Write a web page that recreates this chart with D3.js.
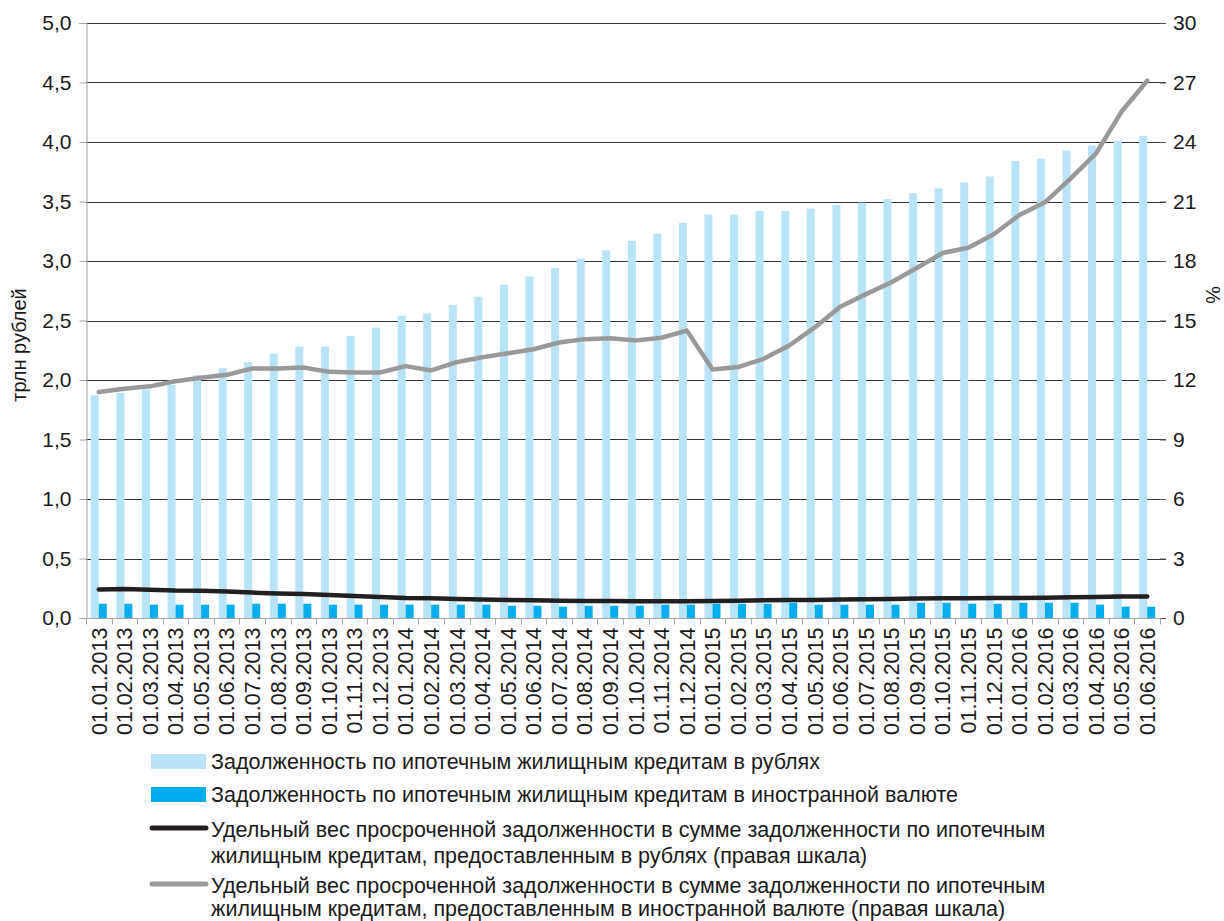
<!DOCTYPE html>
<html><head><meta charset="utf-8">
<script src="https://cdn.jsdelivr.net/npm/d3@7/dist/d3.min.js"></script>
<style>body{margin:0;background:#fff}svg{display:block}text{font-family:"Liberation Sans",Arial,sans-serif;fill:#1a1a1a}</style>
</head><body><svg id="c" width="1224" height="921"></svg>
<script>
const categories = ["01.01.2013","01.02.2013","01.03.2013","01.04.2013","01.05.2013","01.06.2013","01.07.2013","01.08.2013","01.09.2013","01.10.2013","01.11.2013","01.12.2013",
"01.01.2014","01.02.2014","01.03.2014","01.04.2014","01.05.2014","01.06.2014","01.07.2014","01.08.2014","01.09.2014","01.10.2014","01.11.2014","01.12.2014",
"01.01.2015","01.02.2015","01.03.2015","01.04.2015","01.05.2015","01.06.2015","01.07.2015","01.08.2015","01.09.2015","01.10.2015","01.11.2015","01.12.2015",
"01.01.2016","01.02.2016","01.03.2016","01.04.2016","01.05.2016","01.06.2016"];
const debtRub = [1.87,1.89,1.92,1.96,2.04,2.10,2.15,2.22,2.28,2.28,2.37,2.44,2.54,2.56,2.63,2.70,2.80,2.87,2.94,3.02,3.09,3.17,3.23,3.32,3.39,3.39,3.42,3.42,3.44,3.47,3.49,3.52,3.57,3.61,3.66,3.71,3.84,3.86,3.93,3.97,4.01,4.05];
const debtFx = [0.12,0.12,0.112,0.112,0.112,0.112,0.12,0.12,0.12,0.112,0.112,0.112,0.112,0.112,0.112,0.112,0.103,0.103,0.095,0.103,0.103,0.103,0.112,0.112,0.12,0.12,0.12,0.128,0.112,0.112,0.112,0.112,0.128,0.128,0.12,0.12,0.128,0.128,0.128,0.112,0.095,0.095];
const overdueRubPct = [1.44,1.46,1.43,1.39,1.38,1.34,1.28,1.24,1.21,1.16,1.11,1.06,1.01,0.99,0.96,0.93,0.91,0.89,0.87,0.86,0.86,0.84,0.84,0.84,0.86,0.87,0.89,0.91,0.91,0.93,0.95,0.96,0.98,0.99,1.00,1.01,1.01,1.02,1.04,1.06,1.08,1.09];
const overdueFxPct = [11.39,11.56,11.68,11.94,12.11,12.26,12.58,12.58,12.63,12.41,12.38,12.38,12.70,12.48,12.90,13.15,13.35,13.55,13.89,14.06,14.11,13.99,14.13,14.49,12.53,12.65,13.07,13.74,14.65,15.69,16.33,16.93,17.66,18.40,18.67,19.35,20.32,20.96,22.15,23.43,25.54,27.09];
const leftTicks = [0,0.5,1,1.5,2,2.5,3,3.5,4,4.5,5];
const rightTicks = [0,3,6,9,12,15,18,21,24,27,30];
const leftTitle = "трлн рублей";
const rightTitle = "%";
const legendItems = [
 {type:"bar", color:"#b9e4f8", lines:["Задолженность по ипотечным жилищным кредитам в рублях"]},
 {type:"bar", color:"#00aeef", lines:["Задолженность по ипотечным жилищным кредитам в иностранной валюте"]},
 {type:"line", color:"#231f20", lines:["Удельный вес просроченной задолженности в сумме задолженности по ипотечным","жилищным кредитам, предоставленным в рублях (правая шкала)"]},
 {type:"line", color:"#999999", lines:["Удельный вес просроченной задолженности в сумме задолженности по ипотечным","жилищным кредитам, предоставленным в иностранной валюте (правая шкала)"]}
];

const svg = d3.select("#c");
const X0=86, X1=1160, Y0=618, Y1=23;
const x = d3.scaleBand().domain(categories).range([X0,X1]).padding(0);
const yL = d3.scaleLinear().domain([0,5]).range([Y0,Y1]);
const yR = d3.scaleLinear().domain([0,30]).range([Y0,Y1]);
const bw = x.bandwidth();
const cx = d => x(d)+bw/2;
const fmt = v => d3.format(".1f")(v).replace(".",",");

// grid
svg.append("g").selectAll("line").data(leftTicks.filter(d=>d>0)).join("line")
 .attr("x1",X0).attr("x2",X1+6).attr("y1",d=>Math.round(yL(d))+0.5).attr("y2",d=>Math.round(yL(d))+0.5)
 .attr("stroke","#333").attr("stroke-width",1);

// left axis
const gL = svg.append("g").attr("transform",`translate(${X0+0.5},0)`)
 .call(d3.axisLeft(yL).tickValues(leftTicks).tickFormat(fmt).tickSize(7).tickPadding(8));
gL.select(".domain").attr("stroke","#a6a6a6");
gL.selectAll(".tick line").attr("stroke","#a6a6a6");
gL.selectAll("text").style("font-size","21px").attr("fill","#1a1a1a").style("font-family","Liberation Sans, Arial, sans-serif");

// right axis
const gR = svg.append("g").attr("transform",`translate(${X1},0)`)
 .call(d3.axisRight(yR).tickValues(rightTicks).tickSize(6).tickPadding(7));
gR.select(".domain").remove();
gR.selectAll(".tick line").attr("stroke","#555");
gR.selectAll("text").style("font-size","21px").attr("fill","#1a1a1a").style("font-family","Liberation Sans, Arial, sans-serif");

// bars
svg.append("g").selectAll("rect").data(categories).join("rect")
 .attr("x",d=>cx(d)-8).attr("width",8)
 .attr("y",(d,i)=>yL(debtRub[i])).attr("height",(d,i)=>Y0-yL(debtRub[i]))
 .attr("fill","#b9e4f8");
svg.append("g").selectAll("rect").data(categories).join("rect")
 .attr("x",d=>cx(d)).attr("width",8)
 .attr("y",(d,i)=>yL(debtFx[i])).attr("height",(d,i)=>Y0-yL(debtFx[i]))
 .attr("fill","#00aeef");

// bottom axis
const gB = svg.append("g").attr("transform",`translate(0,${Y0+0.5})`);
gB.append("line").attr("x1",X0).attr("x2",X1).attr("stroke","#a6a6a6");
gB.selectAll("line.t").data(categories.concat(["end"])).join("line").attr("class","t")
 .attr("x1",(d,i)=>Math.round(X0+i*bw)+0.5).attr("x2",(d,i)=>Math.round(X0+i*bw)+0.5)
 .attr("y1",0).attr("y2",6).attr("stroke","#a6a6a6");
gB.selectAll("text").data(categories).join("text")
 .attr("transform",d=>`translate(${cx(d)+7.8},9) rotate(-90)`)
 .attr("text-anchor","end").style("font-size","21.5px").text(d=>d);

// lines
const line = d3.line().x((d,i)=>cx(categories[i])).y(d=>yR(d));
svg.append("path").datum(overdueRubPct).attr("d",line).attr("fill","none")
 .attr("stroke","#231f20").attr("stroke-width",4.5).attr("stroke-linecap","round").attr("stroke-linejoin","round");
svg.append("path").datum(overdueFxPct).attr("d",line).attr("fill","none")
 .attr("stroke","#999999").attr("stroke-width",4.5).attr("stroke-linecap","round").attr("stroke-linejoin","round");

// titles
svg.append("text").attr("transform","translate(26,345) rotate(-90)").attr("text-anchor","middle")
 .style("font-size","20px").text(leftTitle);
svg.append("text").attr("transform","translate(1206,295) rotate(90)").attr("text-anchor","middle")
 .style("font-size","20px").text(rightTitle);

// legend
const rowCenters = [[762],[795],[830,856],[886,909]];
const lg = svg.append("g");
legendItems.forEach((it,k)=>{
  const c = rowCenters[k][0];
  if(it.type==="bar") lg.append("rect").attr("x",151).attr("y",c-8).attr("width",55).attr("height",15).attr("fill",it.color);
  else lg.append("line").attr("x1",152).attr("x2",206).attr("y1",c-2).attr("y2",c-2).attr("stroke",it.color).attr("stroke-width",5).attr("stroke-linecap","round");
  it.lines.forEach((t,j)=>{
    lg.append("text").attr("x",211).attr("y",rowCenters[k][j]+7).style("font-size","21.5px").text(t);
  });
});
</script></body></html>
